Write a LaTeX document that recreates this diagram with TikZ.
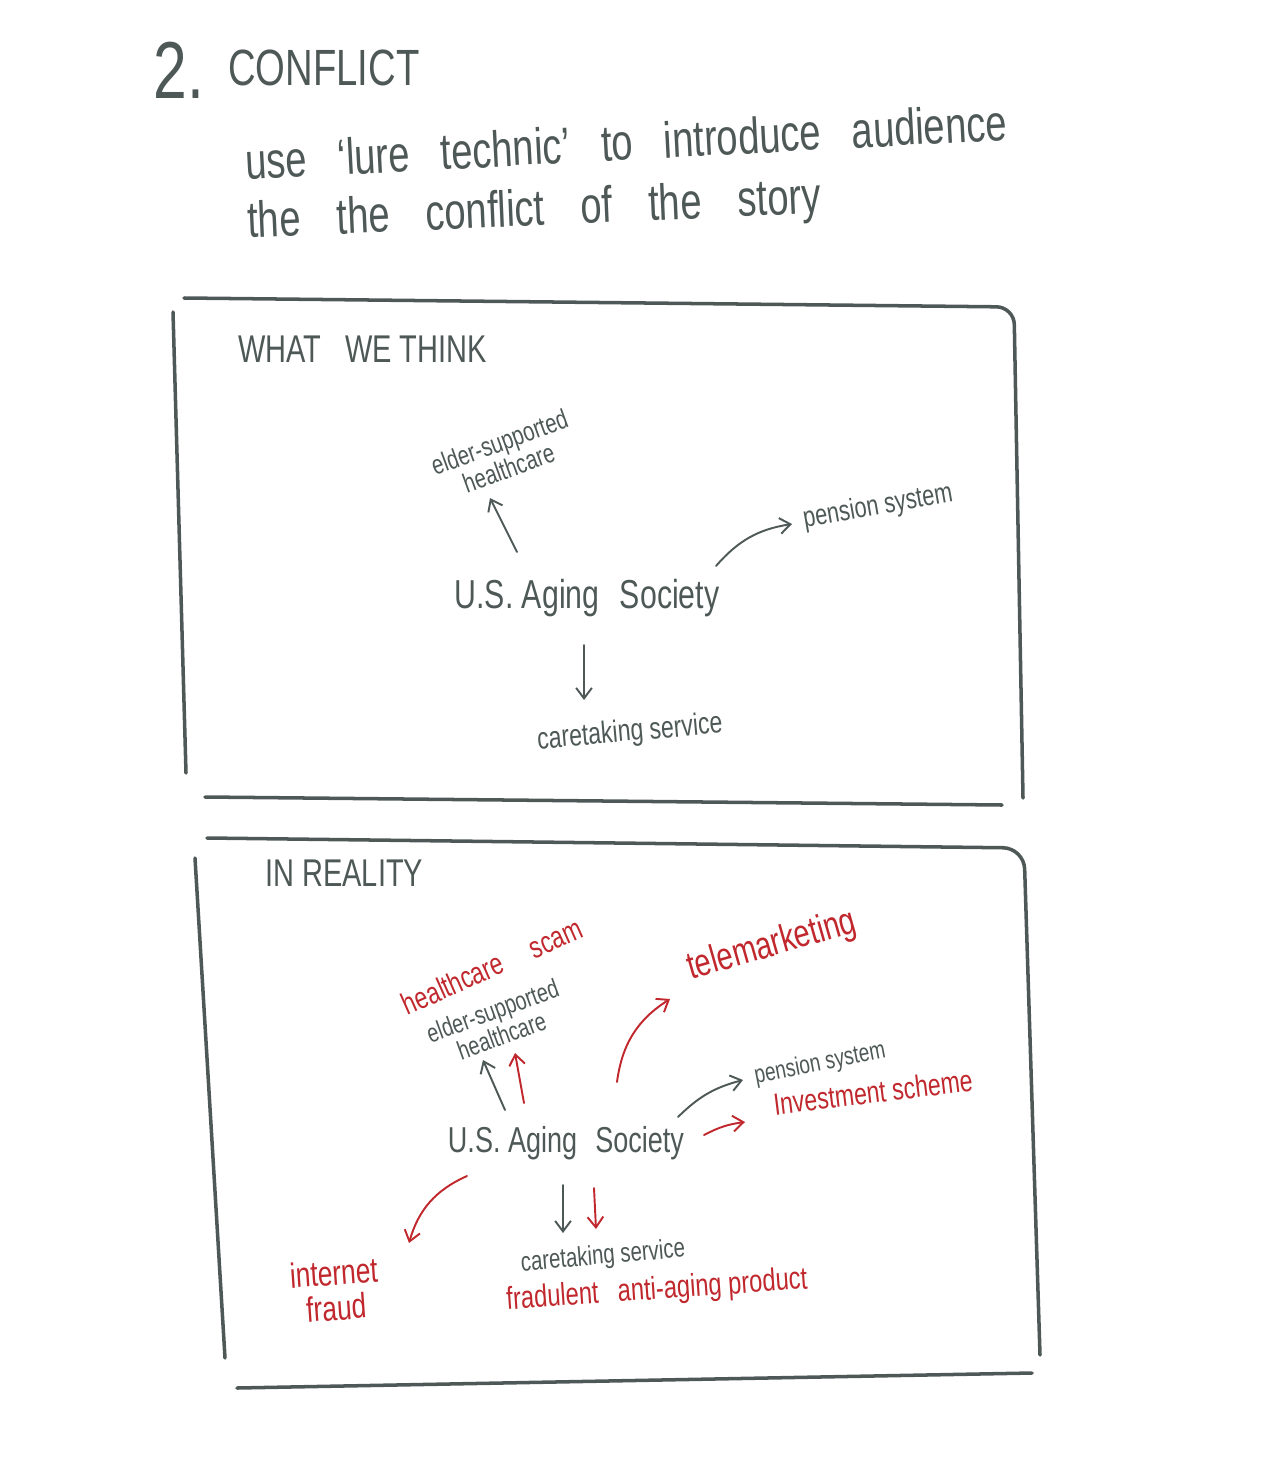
\documentclass[tikz,border=0pt]{standalone}
\usepackage{fontspec}
\setmainfont{Liberation Sans}[FakeStretch=0.75]
\usetikzlibrary{arrows.meta}
\definecolor{pen}{HTML}{4E5957}
\definecolor{redpen}{HTML}{C0282D}

\begin{document}
\begin{tikzpicture}[
x=0.02cm, y=-0.02cm,
every node/.style={
inner sep=0pt,
align=center,
text=pen
},
red/.style={text=redpen},
fs/.style={font=\fontsize{#1}{#1}\selectfont},
box/.style={draw=pen, line width=2pt, line cap=round},
arr/.style={draw=pen, line width=1.1pt, line cap=round, -{Straight Barb[length=6pt,width=9pt]}},
rarr/.style={arr, draw=redpen}
]
\useasboundingbox (0,0) rectangle (1264,1470);

\node[fs=46, anchor=base west] (num) at (153,98) {2.};
\node[fs=29, anchor=base west] (ttl) at (228,86) {CONFLICT};
\node[fs=29, anchor=base west, rotate=3] (sub1) at (246,180) {use\hspace{0.4em} `lure\hspace{0.4em} technic'\hspace{0.4em} to\hspace{0.4em} introduce\hspace{0.4em} audience};
\node[fs=29, anchor=base west, rotate=2.5] (sub2) at (248,238) {the\hspace{0.5em} the\hspace{0.5em} conflict\hspace{0.5em} of\hspace{0.5em} the\hspace{0.5em} story};

\draw[box, rounded corners=10pt] (184,298) -- (1014,307) -- (1023,798);
\draw[box] (173,312) -- (186,773);
\draw[box] (205,797) -- (1002,805);

\node[fs=22, anchor=base west] (think) at (238,362) {WHAT\hspace{0.4em} WE THINK};

\node[fs=15.5, rotate=20] (elder1) at (504,455) {elder-supported\\healthcare};
\node[fs=16.5, rotate=10] (pen1) at (878,507) {pension system};
\node[fs=23] (soc1) at (587,598) {U.S. Aging\hspace{0.3em} Society};
\node[fs=17.5, rotate=5] (care1) at (630,733) {caretaking service};

\draw[arr] ([shift={(-70,-46)}]soc1.center) -- ([shift={(-14,43)}]elder1.center);
\draw[arr] ([shift={(129,-32)}]soc1.center) to[bend left=20] ([shift={(-86,17)}]pen1.center);
\draw[arr] ([shift={(-3,47)}]soc1.center) -- ([shift={(-46,-33)}]care1.center);

\draw[box, rounded corners=12pt] (207,838) -- (1024,848) -- (1040,1355);
\draw[box] (195,858) -- (225,1358);
\draw[box] (237,1388) -- (1032,1373);

\node[fs=22, anchor=base west] (real) at (265,886) {IN REALITY};

\node[fs=17.5, red, rotate=24] (hcs) at (492,966) {healthcare\hspace{0.8em} scam};
\node[fs=15, rotate=20] (elder2) at (497,1023) {elder-supported\\healthcare};
\node[fs=22, red, rotate=16] (tele) at (772,946) {telemarketing};
\node[fs=20.5] (soc2) at (566,1143) {U.S. Aging\hspace{0.3em} Society};
\node[fs=14.5, rotate=11] (pen2) at (820,1064) {pension system};
\node[fs=17.5, red, rotate=7] (inv) at (873,1092) {Investment scheme};
\node[fs=20, red, rotate=4] (fraud) at (335,1290) {internet\\fraud};
\node[fs=15.5, rotate=5] (care2) at (603,1257) {caretaking service};
\node[fs=18, red, rotate=4] (prod) at (657,1291) {fradulent\hspace{0.4em} anti-aging product};

\draw[arr] ([shift={(-61,-33)}]soc2.center) -- ([shift={(-14,37)}]elder2.center);
\draw[rarr] ([shift={(-42,-40)}]soc2.center) -- ([shift={(23,87)}]hcs.center);
\draw[rarr] ([shift={(51,-61)}]soc2.center) to[bend left=25] ([shift={(-102,53)}]tele.center);
\draw[arr] ([shift={(112,-26)}]soc2.center) to[bend left=15] ([shift={(-77,16)}]pen2.center);
\draw[rarr] ([shift={(138,-8)}]soc2.center) to[bend left=10] ([shift={(-128,30)}]inv.center);
\draw[rarr] ([shift={(-99,33)}]soc2.center) to[bend right=25] ([shift={(74,-47)}]fraud.center);
\draw[arr] ([shift={(-3,42)}]soc2.center) -- ([shift={(-40,-24)}]care2.center);
\draw[rarr] ([shift={(28,45)}]soc2.center) -- ([shift={(-61,-62)}]prod.center);

\end{tikzpicture}
\end{document}
